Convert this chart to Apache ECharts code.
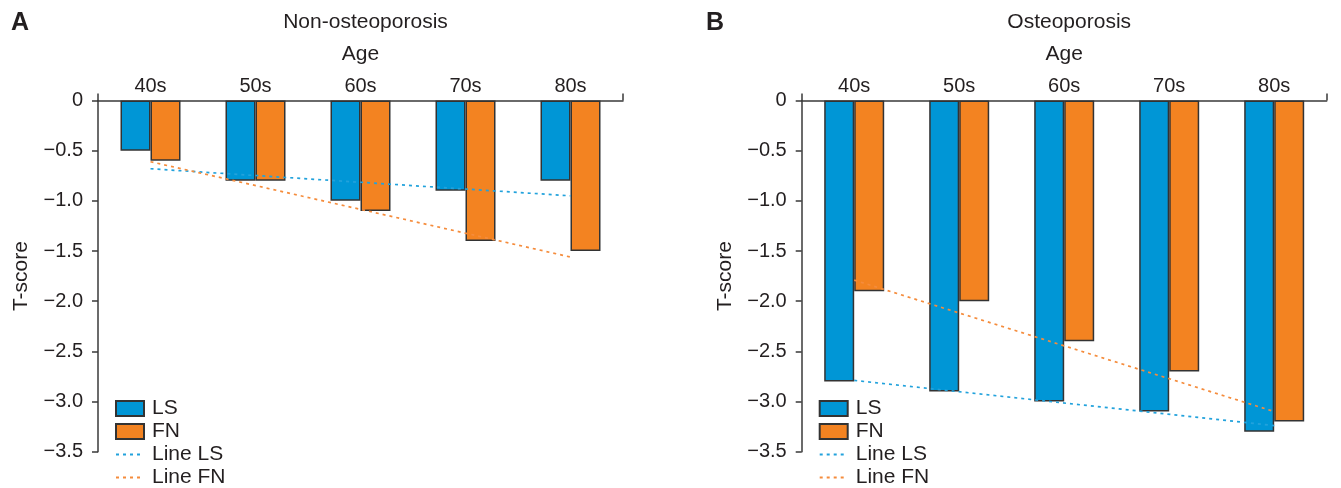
<!DOCTYPE html>
<html>
<head>
<meta charset="utf-8">
<script src="https://cdn.jsdelivr.net/npm/echarts@6/dist/echarts.min.js"></script>
<style>
  html, body { margin: 0; padding: 0; background: #fff; }
  #chart { width: 1341px; height: 488px; }
</style>
</head>
<body>
<div id="chart"></div>
<script>
// categories
const ages = ["40s", "50s", "60s", "70s", "80s"];

// T-scores, non-osteoporosis
const nonLS = [-0.5, -0.8, -1.0, -0.9, -0.8];
const nonFN = [-0.6, -0.8, -1.1, -1.4, -1.5];
// trend lines (start at 40s, end at 80s)
const nonLSLine = [-0.68, null, null, null, -0.95];
const nonFNLine = [-0.61, null, null, null, -1.56];

// T-scores, osteoporosis
const osteoLS = [-2.8, -2.9, -3.0, -3.1, -3.3];
const osteoFN = [-1.9, -2.0, -2.4, -2.7, -3.2];
const osteoLSLine = [-2.79, null, null, null, -3.24];
const osteoFNLine = [-1.79, null, null, null, -3.1];

const panelTitles = ["Non-osteoporosis", "Osteoporosis"];
const panelTags = ["A", "B"];

const font = "'Liberation Sans', Arial, sans-serif";
const ink = "#231f20";
const axisInk = "#3a3a3a";
const blue = "#0096d6";
const orange = "#f38321";
const blueLine = "#22a2dc";
const orangeLine = "#f58c3c";

const gridLefts = [98, 801.7];
const gridWidth = 525;

const chart = echarts.init(document.getElementById("chart"), null, { renderer: "canvas" });

const makeXAxis = (i) => ({
	type: "category",
	gridIndex: i,
	position: "top",
	data: ages,
	name: "Age",
	nameLocation: "middle",
	nameGap: 36,
	nameTextStyle: { fontFamily: font, fontSize: 21, color: ink },
	axisLine: { lineStyle: { color: axisInk, width: 1.5 } },
	// only the two end ticks are drawn in the reference
	axisTick: {
		show: true,
		length: 7,
		interval: (idx) => idx === 0,
		lineStyle: { color: axisInk, width: 1.5 },
	},
	axisLabel: { fontFamily: font, fontSize: 20, color: ink, margin: 4 },
	splitLine: { show: false },
});

const makeYAxis = (i) => ({
	type: "value",
	gridIndex: i,
	min: -3.5,
	max: 0,
	interval: 0.5,
	name: "T-score",
	nameLocation: "middle",
	nameGap: 66,
	nameTextStyle: { fontFamily: font, fontSize: 21, color: ink },
	axisLine: { show: true, lineStyle: { color: axisInk, width: 1.5 } },
	axisTick: { show: true, length: 6, lineStyle: { color: axisInk, width: 1.5 } },
	axisLabel: {
		fontFamily: font,
		fontSize: 20,
		color: ink,
		margin: 15,
		formatter: (v) => (v === 0 ? "0" : "\u2212" + Math.abs(v).toFixed(1)),
	},
	splitLine: { show: false },
});

const barSeries = (name, data, color, i) => ({
	type: "bar",
	name: name,
	xAxisIndex: i,
	yAxisIndex: i,
	data: data,
	barWidth: 30,
	barGap: "0%",
	itemStyle: { color: color, borderColor: "#333", borderWidth: 1.5 },
});

const trendSeries = (name, data, color, i) => ({
	type: "line",
	name: name,
	xAxisIndex: i,
	yAxisIndex: i,
	data: data,
	connectNulls: true,
	symbol: "none",
	itemStyle: { color: color },
	lineStyle: { color: color, width: 1.7, type: [3, 4] },
	z: 5,
});

const legendFor = (i) => ({
	orient: "vertical",
	left: gridLefts[i] + 12,
	top: 393,
	height: 120,
	itemWidth: 28,
	itemHeight: 15,
	itemGap: 2,
	data: [
		{ name: "LS", icon: "rect" },
		{ name: "FN", icon: "rect" },
		// hide the round marker, keep only the dotted stroke
		{ name: "Line LS", itemStyle: { opacity: 0 } },
		{ name: "Line FN", itemStyle: { opacity: 0 } },
	],
	textStyle: { fontFamily: font, fontSize: 21, color: ink, padding: [0, 0, 0, 3] },
});

const option = {
	animation: false,
	backgroundColor: "#fff",
	title: [
		{ text: panelTitles[0], left: gridLefts[0] + gridWidth / 2, top: 7, textAlign: "center",
			textStyle: { fontFamily: font, fontSize: 21, fontWeight: "normal", color: ink } },
		{ text: panelTitles[1], left: gridLefts[1] + gridWidth / 2, top: 7, textAlign: "center",
			textStyle: { fontFamily: font, fontSize: 21, fontWeight: "normal", color: ink } },
		{ text: panelTags[0], left: 11, top: 11, padding: 0,
			textStyle: { fontFamily: font, fontSize: 25, fontWeight: "bold", color: ink } },
		{ text: panelTags[1], left: 706, top: 11, padding: 0,
			textStyle: { fontFamily: font, fontSize: 25, fontWeight: "bold", color: ink } },
	],
	legend: [legendFor(0), legendFor(1)],
	grid: [
		{ left: gridLefts[0], top: 100.5, width: gridWidth, height: 351.2 },
		{ left: gridLefts[1], top: 100.5, width: gridWidth, height: 351.2 },
	],
	xAxis: [makeXAxis(0), makeXAxis(1)],
	yAxis: [makeYAxis(0), makeYAxis(1)],
	series: [
		barSeries("LS", nonLS, blue, 0),
		barSeries("FN", nonFN, orange, 0),
		barSeries("LS", osteoLS, blue, 1),
		barSeries("FN", osteoFN, orange, 1),
		trendSeries("Line LS", nonLSLine, blueLine, 0),
		trendSeries("Line FN", nonFNLine, orangeLine, 0),
		trendSeries("Line LS", osteoLSLine, blueLine, 1),
		trendSeries("Line FN", osteoFNLine, orangeLine, 1),
	],
};

chart.setOption(option);
</script>
</body>
</html>
